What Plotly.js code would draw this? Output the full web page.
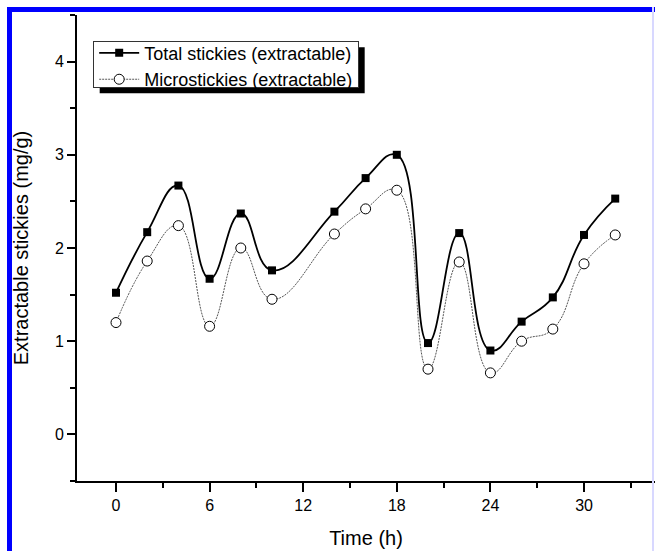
<!DOCTYPE html>
<html>
<head>
<meta charset="utf-8">
<script src="https://cdn.plot.ly/plotly-3.0.1.min.js"></script>
<style>
  html, body { margin: 0; padding: 0; background: #fff; }
  #wrap { position: relative; width: 655px; height: 551px; overflow: hidden; }
  #chart { position: absolute; left: 0; top: 0; width: 655px; height: 551px; }
  #bl { position: absolute; left: 7px; top: 7px; width: 5px; height: 544px; background: #0000ff; z-index: 5; }
  #bt { position: absolute; left: 7px; top: 7px; width: 648px; height: 5px; background: #0000ff; z-index: 5; }
  #br { position: absolute; left: 652px; top: 7px; width: 2px; height: 544px; background: #d8d8ff; z-index: 5; }
</style>
</head>
<body>
<div id="wrap">
  <div id="chart"></div>
  <div id="bl"></div><div id="bt"></div><div id="br"></div>
</div>
<script>
// Data
const timeH = [0, 2, 4, 6, 8, 10, 14, 16, 18, 20, 22, 24, 26, 28, 30, 32];
const totalStickies = [1.52, 2.17, 2.67, 1.67, 2.37, 1.76, 2.39, 2.75, 3.00, 0.98, 2.16, 0.90, 1.21, 1.47, 2.14, 2.53];
const microStickies = [1.20, 1.86, 2.24, 1.16, 2.00, 1.45, 2.15, 2.42, 2.62, 0.70, 1.85, 0.66, 1.00, 1.13, 1.83, 2.14];
const xTickVals = [0, 6, 12, 18, 24, 30];
const yTickVals = [0, 1, 2, 3, 4];

const font = "'Liberation Sans', Arial, sans-serif";

const traces = [
  {
    x: timeH, y: totalStickies, name: 'Total stickies (extractable)',
    type: 'scatter', mode: 'lines+markers',
    line: { shape: 'spline', smoothing: 1.3, color: '#000', width: 1.8 },
    marker: { symbol: 'square', size: 8, color: '#000', line: { width: 0 } }
  },
  {
    x: timeH, y: microStickies, name: 'Microstickies (extractable)',
    type: 'scatter', mode: 'lines+markers',
    line: { shape: 'spline', smoothing: 1.3, color: '#555', width: 1, dash: '2px,1px' },
    marker: { symbol: 'circle', size: 10, color: '#fff', line: { width: 1, color: '#000' } }
  }
];

const layout = {
  width: 655, height: 551,
  margin: { l: 77, r: 0, t: 15, b: 70 },
  paper_bgcolor: '#fff', plot_bgcolor: '#fff',
  showlegend: true,
  font: { family: font, color: '#000', size: 16 },
  xaxis: {
    range: [-2.5, 34.55],
    tickvals: xTickVals,
    ticks: 'outside', ticklen: 9, tickwidth: 2, tickcolor: '#000',
    minor: { dtick: 3, tick0: 0, ticks: 'outside', ticklen: 5, tickwidth: 2, tickcolor: '#000' },
    showline: true, linewidth: 2, linecolor: '#000',
    showgrid: false, zeroline: false,
    tickfont: { family: font, size: 16 },
    title: { text: 'Time (h)', font: { family: font, size: 20 }, standoff: 18 }
  },
  yaxis: {
    range: [-0.5, 4.5],
    tickvals: yTickVals,
    ticks: 'outside', ticklen: 8, tickwidth: 2, tickcolor: '#000',
    minor: { dtick: 0.5, tick0: 0, ticks: 'outside', ticklen: 5, tickwidth: 2, tickcolor: '#000' },
    showline: true, linewidth: 2, linecolor: '#000',
    showgrid: false, zeroline: false,
    tickfont: { family: font, size: 16 },
    title: { text: 'Extractable stickies (mg/g)', font: { family: font, size: 20 }, standoff: 21 }
  },
  legend: {
    x: 0.028, y: 0.96, xanchor: 'left', yanchor: 'top',
    bgcolor: '#fff', bordercolor: '#333', borderwidth: 1,
    font: { family: font, size: 18 },
    itemwidth: 40, tracegroupgap: 0
  },
  shapes: []
};

function trimLegend(gd) {
  const bg = gd.querySelector('.legend .bg');
  if (!bg) return null;
  if (!bg.dataset.trimmed) {
    const y = parseFloat(bg.getAttribute('y')) || 0;
    const h = parseFloat(bg.getAttribute('height'));
    bg.setAttribute('y', y + 7);
    bg.setAttribute('height', h - 18);
    bg.dataset.trimmed = '1';
  }
  return bg;
}

Plotly.newPlot('chart', traces, layout, { displayModeBar: false, staticPlot: true }).then(function (gd) {
  const bg = trimLegend(gd);
  if (!bg) return;
  const r = bg.getBoundingClientRect();
  const c = gd.getBoundingClientRect();
  const fl = gd._fullLayout._size;
  const off = 6;
  const px = v => (v - c.left - fl.l) / fl.w;
  const py = v => 1 - (v - c.top - fl.t) / fl.h;
  return Plotly.relayout(gd, {
    shapes: [{
      type: 'rect', xref: 'paper', yref: 'paper', layer: 'above',
      x0: px(r.left + off), x1: px(r.right + off),
      y0: py(r.bottom + off), y1: py(r.top + off),
      fillcolor: '#000', line: { width: 0 }
    }]
  }).then(function () { trimLegend(gd); });
});
</script>
</body>
</html>
